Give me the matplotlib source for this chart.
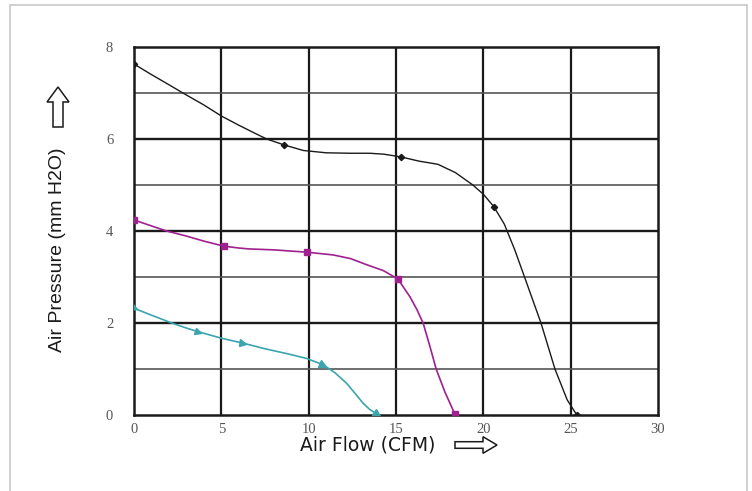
import numpy as np
import matplotlib
matplotlib.use("Agg")
import matplotlib.pyplot as plt
from matplotlib.patches import Polygon, Rectangle
from matplotlib.markers import MarkerStyle
from matplotlib.transforms import Affine2D
from matplotlib import font_manager

# ---------------- data ----------------
black_x = [0, 1, 2, 2.8, 4, 5, 6, 7, 7.6, 8.6, 9.7, 11, 12.4, 13.5, 14.3, 15.3,
           16.3, 17.4, 18.4, 19.4, 20, 20.6, 21.2, 21.8, 22.5, 23.3, 24.1, 24.8, 25.35]
black_y = [7.63, 7.40, 7.18, 7.00, 6.74, 6.50, 6.30, 6.11, 6.00, 5.87, 5.75, 5.70, 5.69,
           5.69, 5.67, 5.61, 5.52, 5.45, 5.27, 5.00, 4.80, 4.53, 4.15, 3.59, 2.85, 2.00,
           1.00, 0.33, 0.0]
black_mx = [0, 8.6, 15.3, 20.6, 25.35]
black_my = [7.63, 5.87, 5.61, 4.53, 0.0]

mag_x = [0, 1, 1.87, 3, 4, 5.15, 6, 6.6, 8, 9.88, 11.4, 12.4, 13.3, 14.27, 15.1,
         15.8, 16.2, 16.56, 16.95, 17.3, 17.8, 18.37]
mag_y = [4.24, 4.11, 4.00, 3.89, 3.78, 3.67, 3.63, 3.61, 3.59, 3.54, 3.48, 3.40,
         3.27, 3.14, 2.96, 2.57, 2.29, 1.99, 1.48, 1.00, 0.50, 0.02]
mag_mx = [0, 5.15, 9.88, 15.1, 18.37]
mag_my = [4.24, 3.67, 3.54, 2.96, 0.02]

cyan_x = [0, 1, 2.16, 3, 3.68, 5, 6.26, 7.5, 8.8, 9.88, 10.84, 11.5, 12.17, 12.7,
          13.13, 13.5, 13.9]
cyan_y = [2.32, 2.17, 2.00, 1.89, 1.81, 1.67, 1.56, 1.44, 1.33, 1.23, 1.09, 0.92,
          0.69, 0.45, 0.25, 0.12, 0.02]
cyan_mx = [0, 3.68, 6.26, 10.84, 13.9]
cyan_my = [2.32, 1.81, 1.56, 1.09, 0.02]

x_ticks = [0, 5, 10, 15, 20, 25, 30]
y_ticks = [0, 2, 4, 6, 8]
x_label = "Air Flow (CFM)"
y_label = "Air Pressure (mm H2O)"

# ---------------- fonts ----------------
avail = {f.name for f in font_manager.fontManager.ttflist}
narrow = "Liberation Sans Narrow" if "Liberation Sans Narrow" in avail else "DejaVu Sans"
sans = "Liberation Sans" if "Liberation Sans" in avail else "DejaVu Sans"
serif = "Liberation Serif" if "Liberation Serif" in avail else "DejaVu Serif"

W, H = 752, 491
fig = plt.figure(figsize=(W / 100, H / 100), dpi=100)
fig.patch.set_facecolor("white")

def fx(px):
    return px / W

def fy(py):
    return 1 - py / H

ax = fig.add_axes([fx(134), fy(415), fx(658) - fx(134), fy(47) - fy(415)])
ax.set_xlim(0, 30)
ax.set_ylim(0, 8)

# grid
for xv in range(5, 30, 5):
    ax.axvline(xv, color="#1a1a1a", lw=1.6, zorder=1)
for yv in range(1, 8):
    if yv % 2 == 0:
        ax.axhline(yv, color="#1a1a1a", lw=1.7, zorder=1)
    else:
        ax.axhline(yv, color="#555555", lw=1.2, zorder=1)
for s in ax.spines.values():
    s.set_linewidth(1.8)
    s.set_color("#1a1a1a")

ax.set_xticks(x_ticks)
ax.set_yticks(y_ticks)
ax.tick_params(length=0, colors="#555555")
ax.tick_params(axis="x", pad=6)
ax.tick_params(axis="y", pad=15)
for lab in ax.get_xticklabels() + ax.get_yticklabels():
    lab.set_fontfamily(serif)
    lab.set_fontsize(10.5)
    lab.set_color("#555555")

c_black = "#1a1a1a"
c_mag = "#a0208f"
c_cyan = "#3aa5ae"

ax.plot(black_x, black_y, color=c_black, lw=1.0, zorder=3)
ax.plot(black_mx, black_my, ls="none", marker="D", ms=3.2, color=c_black, zorder=4)

ax.plot(mag_x, mag_y, color=c_mag, lw=1.2, zorder=3)
ax.plot(mag_mx, mag_my, ls="none", marker="s", ms=5, color=c_mag, zorder=4)

ax.plot(cyan_x, cyan_y, color=c_cyan, lw=1.2, zorder=3)

# arrowhead markers oriented along the cyan curve
fig.canvas.draw()
pts = ax.transData.transform(np.column_stack([cyan_x, cyan_y]))
for mx, my in zip(cyan_mx, cyan_my):
    i = int(np.argmin(np.abs(np.array(cyan_x) - mx)))
    i0 = max(i - 1, 0)
    i1 = min(i + 1, len(cyan_x) - 1)
    d = pts[i1] - pts[i0]
    ang = np.degrees(np.arctan2(d[1], d[0]))
    m = MarkerStyle(">", transform=Affine2D().rotate_deg(ang))
    ax.plot([mx], [my], ls="none", marker=m, ms=5, color=c_cyan, zorder=4)

# axis labels
fig.text(fx(368), fy(445), x_label, ha="center", va="center",
         fontsize=13.5, family=narrow, color="#1a1a1a")
fig.text(fx(57), fy(250), y_label, ha="center", va="center", rotation=90,
         fontsize=14, family=sans, color="#1a1a1a")

# hollow arrows
def poly(points):
    p = Polygon([(fx(a), fy(b)) for a, b in points], closed=True, transform=fig.transFigure,
                facecolor="white", edgecolor="#1a1a1a", lw=1.1)
    fig.add_artist(p)

# right arrow near x label
poly([(455, 441.7), (483, 441.7), (483, 436.7), (497, 445), (483, 453.3),
      (483, 448.3), (455, 448.3)])
# up arrow near y label
poly([(53, 127), (53, 102), (47, 102), (58, 87), (69, 102), (63, 102), (63, 127)])

# light page frame
fig.add_artist(Rectangle((fx(10), fy(520)), fx(747) - fx(10), fy(5) - fy(520),
                         transform=fig.transFigure, fill=False,
                         edgecolor="#c8c8c8", lw=1.2))

fig.savefig("out.png", dpi=100)
